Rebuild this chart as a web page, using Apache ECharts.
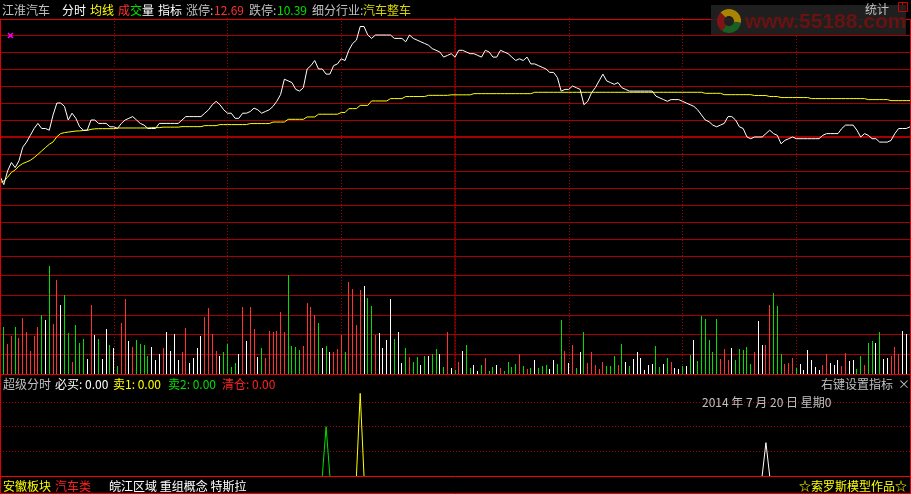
<!DOCTYPE html>
<html>
<head>
<meta charset="utf-8">
<title>江淮汽车 分时</title>
<script src="https://cdn.jsdelivr.net/npm/echarts@6/dist/echarts.min.js"></script>
<style>
  html, body { margin: 0; padding: 0; background: #000; }
  #chart { width: 911px; height: 494px; }
</style>
</head>
<body>
<div id="chart"></div>
<script>
// ---- quote header ----
const stockName = '江淮汽车';
const industry = '汽车整车';
const prevClose = 11.54;
const limitUp = 12.69;
const limitDown = 10.39;
const tradeDate = '2014 年 7 月 20 日 星期0';

// ---- minute prices, 9:30 .. 15:00 (241 points) ----
const price = [
  11.31, 11.26, 11.34, 11.39, 11.36, 11.40, 11.48, 11.51, 11.55, 11.59,
  11.62, 11.59, 11.59, 11.58, 11.67, 11.74, 11.74, 11.72, 11.64, 11.68,
  11.65, 11.60, 11.58, 11.58, 11.64, 11.64, 11.62, 11.62, 11.62, 11.60,
  11.60, 11.59, 11.62, 11.64, 11.65, 11.66, 11.64, 11.62, 11.61, 11.59,
  11.59, 11.59, 11.62, 11.62, 11.62, 11.62, 11.62, 11.62, 11.64, 11.66,
  11.66, 11.66, 11.66, 11.66, 11.68, 11.70, 11.73, 11.75, 11.73, 11.70,
  11.68, 11.68, 11.65, 11.65, 11.68, 11.68, 11.69, 11.71, 11.70, 11.68,
  11.69, 11.70, 11.72, 11.75, 11.79, 11.88, 11.87, 11.86, 11.82, 11.81,
  11.83, 11.94, 11.96, 11.99, 11.94, 11.94, 11.91, 11.91, 11.96, 11.97,
  12.00, 11.99, 12.05, 12.09, 12.11, 12.19, 12.19, 12.14, 12.12, 12.14,
  12.14, 12.14, 12.14, 12.14, 12.12, 12.12, 12.12, 12.10, 12.14, 12.12,
  12.11, 12.10, 12.09, 12.08, 12.06, 12.05, 12.04, 12.01, 12.02, 12.03,
  12.01, 12.05, 12.05, 12.04, 12.03, 12.03, 12.02, 12.01, 12.05, 12.04,
  12.01, 12.01, 12.05, 12.04, 12.03, 12.01, 11.99, 12.00, 11.99, 12.01,
  11.97, 11.97, 11.96, 11.95, 11.94, 11.92, 11.92, 11.89, 11.81, 11.82,
  11.82, 11.84, 11.83, 11.82, 11.73, 11.75, 11.80, 11.83, 11.87, 11.91,
  11.87, 11.86, 11.85, 11.86, 11.83, 11.82, 11.81, 11.81, 11.81, 11.81,
  11.81, 11.81, 11.81, 11.78, 11.77, 11.76, 11.75, 11.76, 11.76, 11.76,
  11.75, 11.74, 11.73, 11.72, 11.70, 11.67, 11.64, 11.63, 11.61, 11.60,
  11.61, 11.62, 11.66, 11.66, 11.64, 11.60, 11.59, 11.54, 11.53, 11.54,
  11.54, 11.54, 11.56, 11.58, 11.56, 11.55, 11.50, 11.52, 11.53, 11.54,
  11.53, 11.53, 11.53, 11.53, 11.53, 11.53, 11.53, 11.55, 11.56, 11.56,
  11.56, 11.56, 11.59, 11.61, 11.61, 11.61, 11.58, 11.54, 11.56, 11.55,
  11.53, 11.53, 11.51, 11.51, 11.51, 11.52, 11.56, 11.59, 11.59, 11.59,
  11.60
];

// ---- running average price (均线) ----
const avgPrice = [
  11.272, 11.281, 11.303, 11.332, 11.346, 11.369, 11.384, 11.393, 11.403, 11.419,
  11.438, 11.458, 11.478, 11.497, 11.511, 11.542, 11.560, 11.566, 11.569, 11.572,
  11.575, 11.576, 11.578, 11.579, 11.585, 11.588, 11.589, 11.589, 11.589, 11.589,
  11.589, 11.593, 11.593, 11.593, 11.593, 11.593, 11.593, 11.593, 11.593, 11.593,
  11.595, 11.595, 11.595, 11.598, 11.598, 11.598, 11.598, 11.598, 11.601, 11.601,
  11.601, 11.601, 11.601, 11.601, 11.607, 11.607, 11.607, 11.607, 11.613, 11.613,
  11.613, 11.613, 11.613, 11.613, 11.613, 11.613, 11.619, 11.619, 11.619, 11.619,
  11.619, 11.619, 11.628, 11.628, 11.628, 11.628, 11.644, 11.644, 11.644, 11.644,
  11.644, 11.658, 11.658, 11.658, 11.674, 11.674, 11.674, 11.674, 11.674, 11.674,
  11.684, 11.684, 11.707, 11.707, 11.707, 11.726, 11.726, 11.726, 11.752, 11.752,
  11.752, 11.752, 11.752, 11.766, 11.766, 11.766, 11.766, 11.778, 11.778, 11.778,
  11.778, 11.778, 11.778, 11.785, 11.785, 11.785, 11.785, 11.785, 11.785, 11.788,
  11.788, 11.788, 11.788, 11.788, 11.788, 11.795, 11.795, 11.795, 11.795, 11.795,
  11.795, 11.795, 11.795, 11.795, 11.795, 11.795, 11.795, 11.795, 11.795, 11.795,
  11.795, 11.803, 11.803, 11.803, 11.803, 11.803, 11.803, 11.803, 11.803, 11.803,
  11.803, 11.803, 11.803, 11.803, 11.803, 11.803, 11.803, 11.803, 11.803, 11.803,
  11.803, 11.803, 11.803, 11.803, 11.803, 11.803, 11.803, 11.803, 11.803, 11.803,
  11.803, 11.803, 11.803, 11.803, 11.803, 11.803, 11.803, 11.803, 11.803, 11.803,
  11.803, 11.803, 11.803, 11.803, 11.803, 11.803, 11.797, 11.797, 11.797, 11.797,
  11.797, 11.789, 11.789, 11.789, 11.789, 11.789, 11.789, 11.789, 11.789, 11.784,
  11.784, 11.784, 11.784, 11.778, 11.778, 11.778, 11.772, 11.772, 11.772, 11.772,
  11.772, 11.772, 11.772, 11.772, 11.766, 11.766, 11.766, 11.766, 11.766, 11.766,
  11.766, 11.766, 11.766, 11.766, 11.766, 11.766, 11.766, 11.766, 11.766, 11.760,
  11.760, 11.760, 11.760, 11.760, 11.760, 11.754, 11.754, 11.754, 11.754, 11.754,
  11.754
];

// ---- minute volume (手) ----
const volume = [
  2600, 2410, 1530, 1930, 2410, 1830, 2850, 2140, 1170, 1930,
  2390, 3000, 2750, 5490, 2540, 4780, 3530, 4020, 2080, 610,
  2490, 1580, 1780, 760, 3530, 1980, 1780, 760, 2290, 1470,
  1320, 410, 2590, 3810, 1680, 1370, 1730, 1530, 1470, 920,
  1370, 710, 1020, 1320, 2140, 1170, 2030, 710, 1120, 2340,
  560, 810, 1320, 1930, 2880, 3360, 2030, 1170, 920, 1120,
  1530, 360, 560, 1020, 3410, 1680, 3410, 2290, 860, 1320,
  810, 2190, 2140, 2190, 3150, 2140, 5030, 1420, 1370, 1220,
  1420, 3610, 3410, 3000, 2590, 1320, 1420, 1120, 1120, 1270,
  1980, 1120, 4680, 4320, 2490, 4270, 4470, 3860, 3460, 1980,
  2080, 1320, 1730, 3810, 1780, 2140, 560, 1320, 860, 610,
  860, 460, 920, 920, 1020, 1270, 1020, 360, 2140, 310,
  200, 610, 1170, 1470, 310, 460, 150, 460, 810, 150,
  360, 460, 310, 150, 610, 360, 510, 1020, 410, 250,
  310, 710, 310, 410, 460, 250, 710, 510, 2750, 1170,
  560, 1470, 310, 1120, 2140, 560, 1120, 460, 250, 610,
  410, 410, 920, 460, 1530, 610, 410, 760, 1120, 810,
  200, 460, 510, 1420, 360, 510, 810, 610, 310, 250,
  410, 410, 970, 1730, 660, 2950, 2800, 1730, 1120, 2800,
  760, 1270, 710, 1320, 710, 1270, 1220, 1370, 510, 1120,
  2700, 1470, 1470, 3510, 4120, 3460, 1020, 510, 560, 810,
  310, 510, 200, 1220, 710, 360, 200, 460, 1020, 560,
  460, 710, 410, 1070, 660, 710, 250, 920, 460, 1580,
  1680, 1580, 2140, 760, 810, 920, 1370, 1020, 2190, 2030,
  1500
];

// r = up tick, g = down tick, w = unchanged
const volDir = [
  'rgrrgrrrrr', 'rgwgrrwggr', 'gggwrwgwwg', 'wgrrwrgggg', 'wwwrwwwwrr',
  'wwwwrrrrwg', 'gggwrwrrwg', 'rrrrrrgggg', 'rrrrgwgwrr', 'rgrrrrwggr',
  'wwwwgwwgrg', 'gwgwggwgrw', 'grwggwwgrg', 'gwrggggrgr', 'gwgggwwggr',
  'wrgwgrrrrr', 'gggrgwgwww', 'wwwggwgrww', 'gwgwgggggg', 'rrrwgggggr',
  'wwrrgggrrr', 'gwwwwwwrrw', 'wwrrwwggrg', 'gwgwwrrrww', 'w'
].join('');

// ---- 超级分时 signals: minute index and strength ----
const buyIdx = [201, 202, 203];
const buyVal = [0, 27, 0];
const sell1Idx = [94, 95, 96];
const sell1Val = [0, 67, 0];
const sell2Idx = [85, 86, 87];
const sell2Val = [0, 40, 0];
const signalReadout = ['0.00', '0.00', '0.00', '0.00'];

// ---- session layout: first minute, midday break, last minute ----
const sessionStart = 0;
const middayBreak = 120;
const sessionEnd = 240;

// ---- palette ----
const GRID_RED = '#a80000';
const FRAME_RED = '#e00000';
const UP = '#ff3232';
const DOWN = '#00e000';
const FLAT = '#ffffff';
const GREY = '#c0c0c0';
const YELLOW = '#ffff00';
const DIR_COLOR = { r: UP, g: DOWN, w: FLAT };
const FONT = '12px "Noto Sans CJK SC", "Noto Sans", sans-serif';

const chart = echarts.init(document.getElementById('chart'), null, { renderer: 'canvas' });

function timeAxis(gridIndex, split) {
  return {
    type: 'value', gridIndex: gridIndex, min: sessionStart, max: sessionEnd, interval: 30,
    axisLine: { show: false }, axisTick: { show: false }, axisLabel: { show: false },
    splitLine: {
      show: split, showMinLine: false, showMaxLine: false,
      lineStyle: { color: GRID_RED, width: 1, type: [1, 2] }
    }
  };
}

function txt(x, y, s, color, align, font) {
  return {
    type: 'text', x: x, y: y, z: 100, silent: true,
    style: { text: s, fill: color, font: font || FONT, align: align || 'left', verticalAlign: 'middle' }
  };
}
function hline(x1, x2, y, color, w) {
  return { type: 'line', z: 90, silent: true, shape: { x1: x1, y1: y, x2: x2, y2: y }, style: { stroke: color, lineWidth: w || 1 } };
}
function vline(x, y1, y2, color, w) {
  return { type: 'line', z: 90, silent: true, shape: { x1: x, y1: y1, x2: x, y2: y2 }, style: { stroke: color, lineWidth: w || 1 } };
}

// solid guide drawn as a plain two-point line series under the data
function guide(xIdx, yIdx, pts, width) {
  return {
    type: 'line', xAxisIndex: xIdx, yAxisIndex: yIdx, data: pts, z: 1,
    showSymbol: false, silent: true, animation: false,
    lineStyle: { color: GRID_RED, width: width, type: 'solid' },
    emphasis: { disabled: true }
  };
}

const toCents = p => Math.round((p - prevClose) * 100000) / 1000;

const graphics = [
  // frame
  hline(0, 911, 19.5, FRAME_RED),
  vline(0.5, 19, 494, FRAME_RED),
  vline(910.5, 19, 494, FRAME_RED),
  hline(0, 911, 374.5, FRAME_RED),
  hline(0, 911, 476.5, '#ff0000'),
  hline(0, 911, 493.5, FRAME_RED),

  // quote header
  txt(2, 10, stockName, GREY),
  txt(62, 10, '分时', '#ffffff'),
  txt(90, 10, '均线', YELLOW),
  txt(118, 10, '成', UP),
  txt(130, 10, '交', DOWN),
  txt(142, 10, '量', '#ffffff'),
  txt(158, 10, '指标', '#ffffff'),
  txt(186, 10, '涨停:', GREY),
  txt(214, 10, limitUp.toFixed(2), UP),
  txt(249, 10, '跌停:', GREY),
  txt(277, 10, limitDown.toFixed(2), DOWN),
  txt(312, 10, '细分行业:', GREY),
  txt(363, 10, industry, '#d8d800'),
  txt(865, 9, '统计', GREY),
  { type: 'rect', z: 100, silent: true, shape: { x: 898.5, y: 2.5, width: 9, height: 9 }, style: { fill: 'none', stroke: '#d00000', lineWidth: 1 } },
  vline(902.5, 3, 12, '#d00000'),

  // site mark
  { type: 'rect', z: 95, silent: true, shape: { x: 711, y: 5, width: 195, height: 30 }, style: { fill: 'rgba(34,34,34,0.9)' } },
  { type: 'sector', z: 96, silent: true, shape: { cx: 729, cy: 21, r: 12, r0: 5, startAngle: -Math.PI * 0.75, endAngle: Math.PI * 0.05 }, style: { fill: '#a88400' } },
  { type: 'sector', z: 96, silent: true, shape: { cx: 729, cy: 21, r: 12, r0: 5, startAngle: Math.PI * 0.05, endAngle: Math.PI * 0.7 }, style: { fill: '#1a5e22' } },
  { type: 'sector', z: 96, silent: true, shape: { cx: 729, cy: 21, r: 12, r0: 5, startAngle: Math.PI * 0.7, endAngle: Math.PI * 1.25 }, style: { fill: '#801414' } },
  txt(745, 22, 'www.55188.com', '#681212', 'left', 'bold 21px "Liberation Sans", Arial, sans-serif'),

  // marker at the top-left of the price panel
  { type: 'polyline', z: 100, silent: true, shape: { points: [[8, 33], [13, 38]] }, style: { stroke: '#ff00ff', lineWidth: 1.5 } },
  { type: 'polyline', z: 100, silent: true, shape: { points: [[13, 33], [8, 38]] }, style: { stroke: '#ff00ff', lineWidth: 1.5 } },

  // indicator header
  txt(3, 384, '超级分时', GREY),
  txt(55, 384, '必买: ' + signalReadout[0], '#ffffff'),
  txt(113, 384, '卖1: ' + signalReadout[1], YELLOW),
  txt(168, 384, '卖2: ' + signalReadout[2], DOWN),
  txt(222, 384, '清仓: ' + signalReadout[3], '#ff2020'),
  txt(893, 384, '右键设置指标', GREY, 'right'),
  txt(898, 384, '×', GREY),
  txt(702, 402, tradeDate, GREY),

  // sector tags
  txt(3, 486, '安徽板块', YELLOW),
  txt(55, 486, '汽车类', '#ff2020'),
  txt(109, 486, '皖江区域 重组概念 特斯拉', '#ffffff'),
  txt(907, 486, '☆索罗斯模型作品☆', YELLOW, 'right')
];

const option = {
  backgroundColor: '#000000',
  animation: false,
  grid: [
    { left: 0, top: 18, width: 910, height: 238 },
    { left: 0, top: 256, width: 910, height: 118 },
    { left: 0, top: 377.33, width: 910, height: 98.67 }
  ],
  xAxis: [timeAxis(0, true), timeAxis(1, true), timeAxis(2, false)],
  yAxis: [
    {
      type: 'value', gridIndex: 0, min: -70, max: 70, interval: 10,
      axisLine: { show: false }, axisTick: { show: false }, axisLabel: { show: false },
      splitLine: { show: true, showMaxLine: false, lineStyle: { color: GRID_RED, width: 1, type: 'solid' } }
    },
    {
      type: 'value', gridIndex: 1, min: 0, max: 6000, interval: 1000,
      axisLine: { show: false }, axisTick: { show: false }, axisLabel: { show: false },
      splitLine: { show: true, showMaxLine: false, showMinLine: false, lineStyle: { color: GRID_RED, width: 1, type: 'solid' } }
    },
    {
      type: 'value', gridIndex: 2, min: 0, max: 80, interval: 20,
      axisLine: { show: false }, axisTick: { show: false }, axisLabel: { show: false },
      splitLine: { show: true, showMaxLine: false, showMinLine: false, lineStyle: { color: GRID_RED, width: 1, type: [1, 2] } }
    }
  ],
  series: [
    // prev-close line (thick) and midday separators
    guide(0, 0, [[sessionStart, 0], [sessionEnd, 0]], 2),
    guide(0, 0, [[middayBreak, -70], [middayBreak, 70]], 1),
    guide(1, 1, [[middayBreak, 0], [middayBreak, 6000]], 1),
    {
      name: '均价', type: 'line', xAxisIndex: 0, yAxisIndex: 0,
      data: avgPrice.map((p, i) => [i, toCents(p)]),
      showSymbol: false, z: 3,
      lineStyle: { color: YELLOW, width: 1 }
    },
    {
      name: '价格', type: 'line', xAxisIndex: 0, yAxisIndex: 0,
      data: price.map((p, i) => [i, toCents(p)]),
      showSymbol: false, z: 4,
      lineStyle: { color: '#ffffff', width: 1 }
    },
    {
      name: '成交量', type: 'custom', xAxisIndex: 1, yAxisIndex: 1,
      data: volume.map((v, i) => [i, v]),
      z: 3,
      renderItem: function (params, api) {
        const i = api.value(0);
        const top = api.coord([i, api.value(1)]);
        const base = api.coord([i, 0]);
        const x = Math.floor(top[0]);
        const y = Math.round(top[1]);
        return {
          type: 'rect',
          shape: { x: x, y: y, width: 1, height: Math.round(base[1]) - y },
          style: { fill: DIR_COLOR[volDir[i]] }
        };
      }
    },
    {
      name: '必买', type: 'line', xAxisIndex: 2, yAxisIndex: 2,
      data: buyIdx.map((x, k) => [x, buyVal[k]]),
      showSymbol: false, lineStyle: { color: '#ffffff', width: 1 }
    },
    {
      name: '卖1', type: 'line', xAxisIndex: 2, yAxisIndex: 2,
      data: sell1Idx.map((x, k) => [x, sell1Val[k]]),
      showSymbol: false, lineStyle: { color: YELLOW, width: 1 }
    },
    {
      name: '卖2', type: 'line', xAxisIndex: 2, yAxisIndex: 2,
      data: sell2Idx.map((x, k) => [x, sell2Val[k]]),
      showSymbol: false, lineStyle: { color: DOWN, width: 1 }
    }
  ],
  graphic: graphics
};

chart.setOption(option);
</script>
</body>
</html>
